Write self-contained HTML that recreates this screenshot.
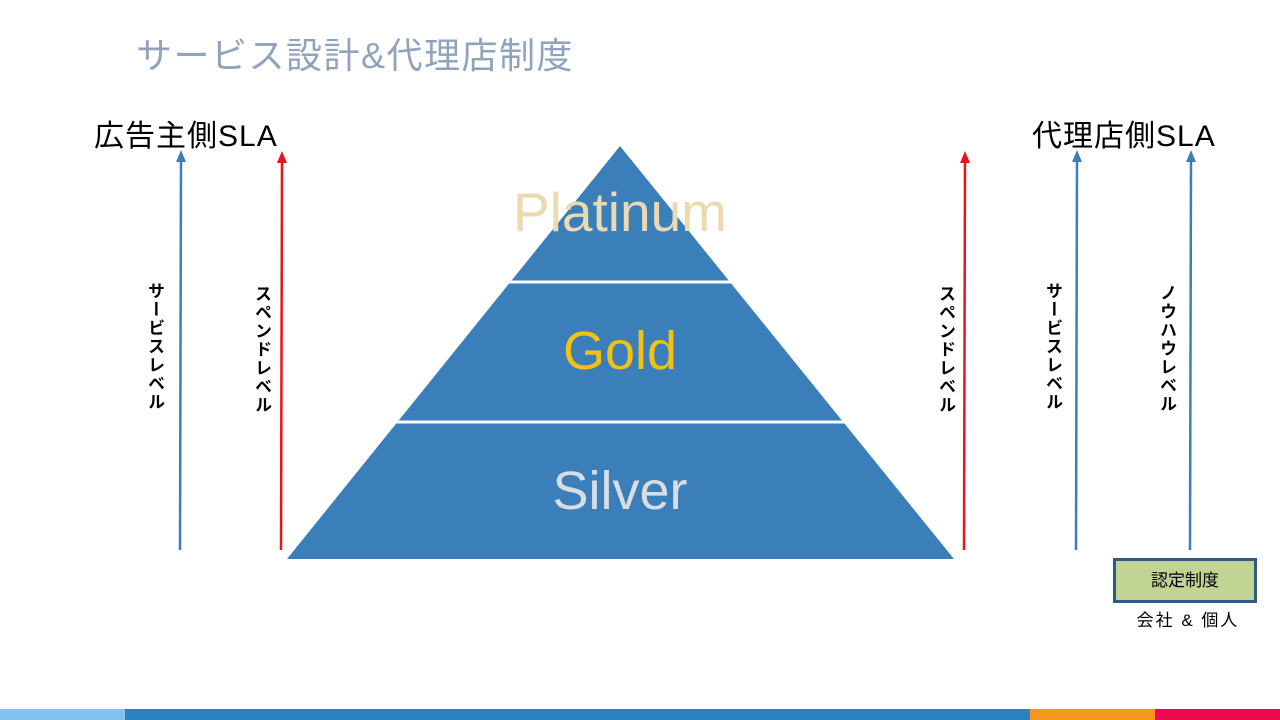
<!DOCTYPE html>
<html><head><meta charset="utf-8"><style>
body{margin:0;width:1280px;height:720px;position:relative;background:#fff;overflow:hidden;font-family:"Liberation Sans","Noto Sans CJK JP",sans-serif}
.a{position:absolute}
.v{position:absolute;writing-mode:vertical-rl;font-size:17px;color:#000;letter-spacing:1.5px;line-height:1;font-weight:bold}
</style></head><body>
<div class="a" style="left:136px;top:27px;font-size:36px;letter-spacing:1.5px;color:#8fa3bd">サービス設計&amp;代理店制度</div>
<div class="a" style="left:94px;top:111px;font-size:30px;letter-spacing:1px;color:#000">広告主側SLA</div>
<div class="a" style="left:1032px;top:111px;font-size:30px;letter-spacing:1px;color:#000">代理店側SLA</div>
<svg class="a" style="left:0;top:0" width="1280" height="720">
<polygon points="620,146 287,559 954,559" fill="#3a7fba"/>
<line x1="505" y1="282" x2="735" y2="282" stroke="#fff" stroke-width="3"/>
<line x1="393" y1="422" x2="847" y2="422" stroke="#fff" stroke-width="3"/>
<g stroke-width="2.5">
<line x1="180" y1="550" x2="181" y2="160" stroke="#3a7fba"/><polygon points="176,162 181,150 186,162" fill="#3a7fba"/>
<line x1="281" y1="550" x2="282" y2="160" stroke="#e8141c"/><polygon points="277,163 282,151 287,163" fill="#e8141c"/>
<line x1="964" y1="550" x2="965" y2="160" stroke="#e8141c"/><polygon points="960,163 965,151 970,163" fill="#e8141c"/>
<line x1="1076" y1="550" x2="1077" y2="160" stroke="#3a7fba"/><polygon points="1072,162 1077,150 1082,162" fill="#3a7fba"/>
<line x1="1190" y1="550" x2="1191" y2="160" stroke="#3a7fba"/><polygon points="1186,162 1191,150 1196,162" fill="#3a7fba"/>
</g>
</svg>
<div class="a" style="left:420px;width:400px;top:180px;text-align:center;font-size:55px;color:#ecd9b0">Platinum</div>
<div class="a" style="left:420px;width:400px;top:320px;text-align:center;font-size:54px;color:#f5c010">Gold</div>
<div class="a" style="left:420px;width:400px;top:460px;text-align:center;font-size:54px;color:#d8dde3">Silver</div>
<div class="v" style="left:146px;top:282px">サービスレベル</div>
<div class="v" style="left:253px;top:285px">スペンドレベル</div>
<div class="v" style="left:937px;top:285px">スペンドレベル</div>
<div class="v" style="left:1044px;top:282px">サービスレベル</div>
<div class="v" style="left:1158px;top:284px">ノウハウレベル</div>
<div class="a" style="left:1113px;top:558px;width:138px;height:39px;background:#c2d494;border:3px solid #2e5a86;text-align:center;line-height:39px;font-size:17px">認定制度</div>
<div class="a" style="left:1120px;width:136px;top:606px;text-align:center;font-size:17px;letter-spacing:2px">会社 &amp; 個人</div>
<div class="a" style="left:0;top:709px;width:125px;height:11px;background:#7fc3ef"></div>
<div class="a" style="left:125px;top:709px;width:905px;height:11px;background:#2a82c2"></div>
<div class="a" style="left:1030px;top:709px;width:125px;height:11px;background:#f7961e"></div>
<div class="a" style="left:1155px;top:709px;width:125px;height:11px;background:#ee0a50"></div>
</body></html>
